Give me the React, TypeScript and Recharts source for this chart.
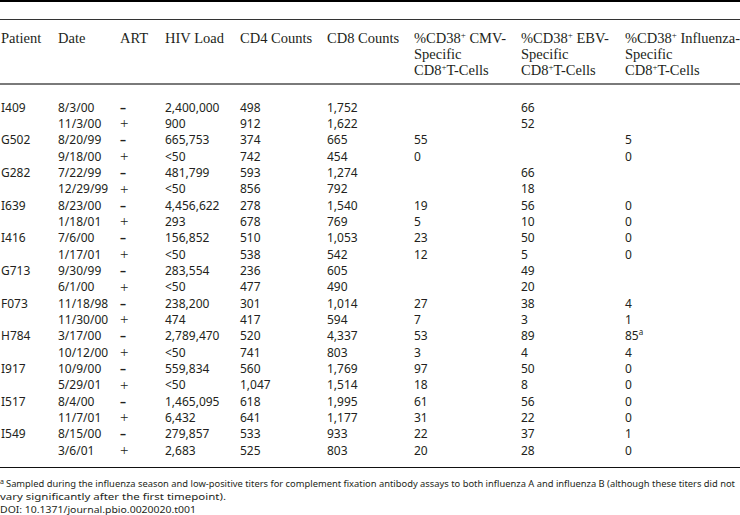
import { Customized, Scatter, ScatterChart, XAxis, YAxis } from "recharts";

const PATIENTS = ["I409", "", "G502", "", "G282", "", "I639", "", "I416", "", "G713", "", "F073", "", "H784", "", "I917", "", "I517", "", "I549", ""];
const DATES = ["8/3/00", "11/3/00", "8/20/99", "9/18/00", "7/22/99", "12/29/99", "8/23/00", "1/18/01", "7/6/00", "1/17/01", "9/30/99", "6/1/00", "11/18/98", "11/30/00", "3/17/00", "10/12/00", "10/9/00", "5/29/01", "8/4/00", "11/7/01", "8/15/00", "3/6/01"];
const ART = ["–", "+", "–", "+", "–", "+", "–", "+", "–", "+", "–", "+", "–", "+", "–", "+", "–", "+", "–", "+", "–", "+"];
const HIV_LOAD = ["2,400,000", "900", "665,753", "<50", "481,799", "<50", "4,456,622", "293", "156,852", "<50", "283,554", "<50", "238,200", "474", "2,789,470", "<50", "559,834", "<50", "1,465,095", "6,432", "279,857", "2,683"];
const CD4 = ["498", "912", "374", "742", "593", "856", "278", "678", "510", "538", "236", "477", "301", "417", "520", "741", "560", "1,047", "618", "641", "533", "525"];
const CD8 = ["1,752", "1,622", "665", "454", "1,274", "792", "1,540", "769", "1,053", "542", "605", "490", "1,014", "594", "4,337", "803", "1,769", "1,514", "1,995", "1,177", "933", "803"];
const CMV = ["", "", "55", "0", "", "", "19", "5", "23", "12", "", "", "27", "7", "53", "3", "97", "18", "61", "31", "22", "20"];
const EBV = ["66", "52", "", "", "66", "18", "56", "10", "50", "5", "49", "20", "38", "3", "89", "4", "50", "8", "56", "22", "37", "28"];
const FLU = ["", "", "5", "0", "", "", "0", "0", "0", "0", "", "", "4", "1", "85", "4", "0", "0", "0", "0", "1", "0"];
const FLU_NOTE = ["", "", "", "", "", "", "", "", "", "", "", "", "", "", "a", "", "", "", "", "", "", ""];

const COLUMNS = [PATIENTS, DATES, ART, HIV_LOAD, CD4, CD8, CMV, EBV, FLU];
const COLUMN_X = [1, 58, 120, 165, 240, 327, 414, 521, 625];

const SERIF = "'Liberation Serif', 'DejaVu Serif', serif";
const SANS = "'Noto Sans', 'Open Sans', sans-serif";
const INK = "#231f20";

const cellData = COLUMNS.map((col, c) =>
  col
    .map((label, i) => ({ x: COLUMN_X[c], y: i, label, note: c === 8 ? FLU_NOTE[i] : "" }))
    .filter((d) => d.label !== "")
);

const Cell = (props: any) => {
  const { cx, cy, payload } = props;
  const isPlus = payload.label === "+";
  const isMinus = payload.label === "–";
  return (
    <text
      x={cx}
      y={cy}
      dominantBaseline="central"
      fontFamily={isPlus ? SERIF : SANS}
      fontSize={isPlus ? 15 : 12}
      fontWeight={isMinus ? 700 : 400}
      fill={INK}
    >
      {payload.label}
      {payload.note && (
        <tspan fontSize={8} dy={-5}>
          {payload.note}
        </tspan>
      )}
    </text>
  );
};

const Frame = () => (
  <g>
    <rect x={0} y={0} width={740} height={2} fill="#000" />
    <rect x={0} y={19} width={740} height={1} fill="#333" />
    <rect x={0} y={83} width={740} height={2} fill="#7a7a7a" />
    <rect x={0} y={467} width={740} height={1} fill="#111" />
    <g fontFamily={SERIF} fontSize={14.5} fill={INK}>
      <text x={1} y={43}>Patient</text>
      <text x={58} y={43}>Date</text>
      <text x={120} y={43}>ART</text>
      <text x={165} y={43}>HIV Load</text>
      <text x={240} y={43}>CD4 Counts</text>
      <text x={327} y={43}>CD8 Counts</text>
      {[
        [414, "CMV-"],
        [521, "EBV-"],
        [625, "Influenza-"],
      ].map(([x, name]) => (
        <g key={name as string}>
          <text x={x as number} y={43}>
            %CD38<tspan fontSize={9} dy={-5}>+</tspan>
            <tspan dy={5}> {name}</tspan>
          </text>
          <text x={x as number} y={59}>Specific</text>
          <text x={x as number} y={75}>
            CD8<tspan fontSize={9} dy={-5}>+</tspan>
            <tspan dy={5}>T-Cells</tspan>
          </text>
        </g>
      ))}
    </g>
    <g fontFamily={SANS} fontSize={9.5} fill={INK}>
      <text x={0} y={484} fontSize={7}>a</text>
      <text x={6} y={487} textLength={729} lengthAdjust="spacingAndGlyphs">
        Sampled during the influenza season and low-positive titers for complement fixation antibody assays to both influenza A and influenza B (although these titers did not
      </text>
      <text x={0} y={500} textLength={226} lengthAdjust="spacingAndGlyphs">
        vary significantly after the first timepoint).
      </text>
      <text x={0} y={513} textLength={196} lengthAdjust="spacingAndGlyphs">
        DOI: 10.1371/journal.pbio.0020020.t001
      </text>
    </g>
  </g>
);

export default function App() {
  return (
    <div style={{ position: "absolute", left: 0, top: 0, background: "#fff" }}>
      <ScatterChart width={740} height={515} margin={{ top: 107, right: 0, bottom: 65, left: 0 }}>
        <XAxis type="number" dataKey="x" domain={[0, 740]} hide />
        <YAxis type="number" dataKey="y" domain={[0, 21]} reversed hide />
        <Customized component={Frame} />
        {cellData.map((data, c) => (
          <Scatter key={c} data={data} shape={Cell} isAnimationActive={false} />
        ))}
      </ScatterChart>
    </div>
  );
}
